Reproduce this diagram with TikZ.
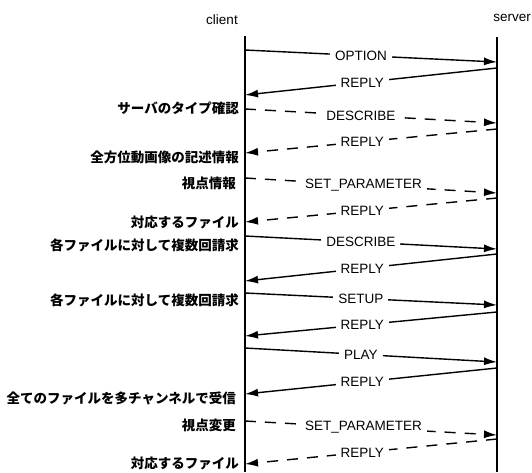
\documentclass[tikz,border=0pt]{standalone}
\usepackage{fontspec}
\setmainfont{Liberation Sans}
\newfontfamily\jp{Noto Sans CJK JP}
\usetikzlibrary{arrows.meta}
\begin{document}
\begin{tikzpicture}[x=1pt,y=-1pt,
  lifeline/.style={line width=1.6pt},
  msg/.style={line width=1.4pt,-{Latex[length=13pt,width=8pt]}},
  dmsg/.style={msg,dash pattern=on 11pt off 9pt},
  lbl/.style={fill=white,inner xsep=5pt,inner ysep=1pt,font=\fontsize{13.5}{15}\selectfont},
  note/.style={anchor=east,inner sep=0pt,font=\jp\bfseries\fontsize{13.5}{15}\selectfont},
  head/.style={inner sep=0pt,font=\fontsize{13.5}{15}\selectfont}]
\useasboundingbox (0,0) rectangle (532,472);
% lifelines
\coordinate (ctop) at (245,36);
\coordinate (cbot) at (245,472);
\coordinate (stop) at (497,37);
\coordinate (sbot) at (497,472);
\draw[lifeline] (ctop) -- (cbot);
\draw[lifeline] (stop) -- (sbot);
\node[head] (client) at (222,20) {client};
\node[head] (server) at (512,18) {server};
% message end points
\coordinate (c1) at (245,50);  \coordinate (s1) at (497,62);
\coordinate (s2) at (497,68);  \coordinate (c2) at (245,95);
\coordinate (c3) at (245,109); \coordinate (s3) at (497,123);
\coordinate (s4) at (497,129); \coordinate (c4) at (245,153);
\coordinate (c5) at (245,178); \coordinate (s5) at (497,193);
\coordinate (s6) at (497,198); \coordinate (c6) at (245,222);
\coordinate (c7) at (245,236); \coordinate (s7) at (497,249);
\coordinate (s8) at (497,254); \coordinate (c8) at (245,281);
\coordinate (c9) at (245,293); \coordinate (s9) at (497,305);
\coordinate (s10) at (497,312); \coordinate (c10) at (245,336);
\coordinate (c11) at (245,348); \coordinate (s11) at (497,362);
\coordinate (s12) at (497,368); \coordinate (c12) at (245,394);
\coordinate (c13) at (245,421); \coordinate (s13) at (497,435);
\coordinate (s14) at (497,439); \coordinate (c14) at (245,464);
% messages
\draw[msg]  (c1) -- node[lbl,pos=0.46] (m1) {OPTION} (s1);
\draw[msg]  (s2) -- node[lbl,pos=0.535] (m2) {REPLY} (c2);
\draw[dmsg] (c3) -- node[lbl,pos=0.46] (m3) {DESCRIBE} (s3);
\draw[dmsg] (s4) -- node[lbl,pos=0.535] (m4) {REPLY} (c4);
\draw[dmsg] (c5) -- node[lbl,pos=0.47] (m5) {SET\_PARAMETER} (s5);
\draw[dmsg] (s6) -- node[lbl,pos=0.535] (m6) {REPLY} (c6);
\draw[msg]  (c7) -- node[lbl,pos=0.46] (m7) {DESCRIBE} (s7);
\draw[msg]  (s8) -- node[lbl,pos=0.535] (m8) {REPLY} (c8);
\draw[msg]  (c9) -- node[lbl,pos=0.46] (m9) {SETUP} (s9);
\draw[msg]  (s10) -- node[lbl,pos=0.535] (m10) {REPLY} (c10);
\draw[msg]  (c11) -- node[lbl,pos=0.46] (m11) {PLAY} (s11);
\draw[msg]  (s12) -- node[lbl,pos=0.535] (m12) {REPLY} (c12);
\draw[dmsg] (c13) -- node[lbl,pos=0.47] (m13) {SET\_PARAMETER} (s13);
\draw[dmsg] (s14) -- node[lbl,pos=0.535] (m14) {REPLY} (c14);
% notes
\node[note] (n1) at (239,108) {サーバのタイプ確認};
\node[note] (n2) at (239,157) {全方位動画像の記述情報};
\node[note] (n3) at (236,183) {視点情報};
\node[note] (n4) at (239,222) {対応するファイル};
\node[note] (n5) at (239,245) {各ファイルに対して複数回請求};
\node[note] (n6) at (239,300) {各ファイルに対して複数回請求};
\node[note] (n7) at (236,398) {全てのファイルを多チャンネルで受信};
\node[note] (n8) at (236,425) {視点変更};
\node[note] (n9) at (239,463) {対応するファイル};
\end{tikzpicture}
\end{document}
